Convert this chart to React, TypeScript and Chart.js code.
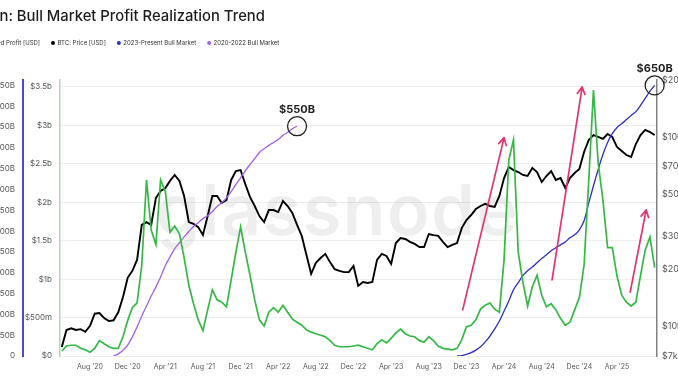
import React, { useEffect, useRef } from "react";
import { Chart, registerables } from "chart.js";

Chart.register(...registerables);

const TITLE = "Bitcoin: Bull Market Profit Realization Trend";
// x is counted in months from Jan 2020 (4 = May 2020), one sample every half month
const START_MONTH = 4;
const STEP_MONTHS = 0.5;

// BTC price, thousands of USD
const btcPriceK = [
  7.8, 9.6, 9.8, 9.6, 9.7, 9.4, 10.1, 11.7, 11.8, 11.1,
  10.7, 10.8, 11.9, 14.3, 18.1, 19.7, 22.5, 34.4, 35.6, 34.4,
  47.7, 51.9, 53.9, 58.7, 63.1, 58.7, 48.9, 35.6, 34.8, 33.5,
  30.4, 38.3, 48.9, 48.9, 44.9, 46.5, 59.4, 66.2, 67.0, 56.5,
  48.3, 43.3, 38.3, 35.6, 41.2, 41.2, 40.2, 46.0, 43.3, 39.8,
  34.4, 30.1, 23.9, 19.0, 21.7, 23.0, 24.2, 21.9, 20.1, 19.7,
  19.4, 19.4, 20.9, 16.4, 17.2, 17.0, 17.2, 22.5, 24.2, 23.6,
  21.4, 27.6, 29.3, 29.0, 28.0, 27.3, 26.3, 26.3, 30.8, 30.4,
  30.1, 28.0, 26.3, 27.0, 27.6, 33.1, 36.5, 38.8, 41.7, 43.3,
  44.4, 43.3, 42.8, 48.9, 60.8, 69.5, 67.0, 65.4, 63.1, 62.3,
  68.7, 65.4, 57.9, 62.3, 66.2, 59.4, 60.8, 53.9, 60.8, 64.6,
  67.8, 83.4, 96.5, 102.5, 100.1, 97.7, 103.8, 100.1, 88.6, 84.4,
  80.4, 78.5, 91.9, 102.5, 109.0, 106.3, 102.5,
];

// Realized profit, billions of USD
const realizedProfitB = [
  0.065, 0.13, 0.14, 0.14, 0.1, 0.08, 0.05, 0.1, 0.2, 0.16,
  0.12, 0.1, 0.1, 0.25, 0.46, 0.63, 0.69, 1.18, 2.29, 1.64,
  1.45, 2.29, 2.14, 1.61, 1.69, 1.59, 1.28, 0.92, 0.68, 0.47,
  0.33, 0.6, 0.86, 0.73, 0.7, 0.64, 0.99, 1.35, 1.68, 1.35,
  1.05, 0.73, 0.47, 0.39, 0.57, 0.63, 0.57, 0.66, 0.57, 0.48,
  0.44, 0.4, 0.34, 0.31, 0.29, 0.27, 0.25, 0.2, 0.14, 0.12,
  0.12, 0.12, 0.13, 0.14, 0.12, 0.1, 0.08, 0.16, 0.21, 0.17,
  0.23, 0.3, 0.35, 0.29, 0.26, 0.25, 0.2, 0.18, 0.25, 0.2,
  0.13, 0.1, 0.09, 0.08, 0.1, 0.21, 0.38, 0.4, 0.47, 0.61,
  0.66, 0.69, 0.61, 0.57, 1.25, 2.55, 2.81, 1.35, 0.96, 0.65,
  0.9, 1.05, 0.79, 0.64, 0.68, 0.6, 0.49, 0.4, 0.44, 0.6,
  0.76, 1.18, 2.29, 3.46, 2.51, 2.03, 1.41, 1.41, 1.04, 0.79,
  0.7, 0.65, 0.7, 1.05, 1.38, 1.55, 1.15,
];

// Cumulative profit of the 2020-2022 bull market, billions of USD
const bull2020StartIndex = 11;
const bull2020CumulativeB = [
  0, 5, 14, 26, 46, 70, 96, 120, 144, 166, 190, 217, 238, 258, 272, 286,
  299, 311, 320, 330, 337, 347, 359, 368, 380, 395, 412, 428, 445, 460,
  474, 489, 498, 506, 513, 520, 530, 537, 546, 552,
];

// Cumulative profit of the 2023-present bull market, billions of USD
const bull2023StartIndex = 84;
const bull2023CumulativeB = [
  0, 1, 4, 8, 14, 22, 34, 48, 65, 84, 108, 132, 159, 176, 193, 205, 214,
  224, 234, 243, 253, 260, 267, 274, 284, 291, 303, 325, 368, 409, 448,
  484, 513, 534, 549, 558, 568, 578, 587, 602, 619, 636, 650,
];

const monthTickValues = [7, 11, 15, 19, 23, 27, 31, 35, 39, 43, 47, 51, 55, 59, 63];
const MONTH_NAMES = ["Jan", "Feb", "Mar", "Apr", "May", "Jun", "Jul", "Aug", "Sep", "Oct", "Nov", "Dec"];
const cumulativeTicksB = [0, 50, 100, 150, 200, 250, 300, 350, 400, 450, 500, 550, 600, 650];
const profitTicksB = [0, 0.5, 1, 1.5, 2, 2.5, 3, 3.5];
const priceTicksK = [7, 10, 20, 30, 50, 70, 100, 200];

// pink trend arrows, in (month, realized profit in B) coordinates
const arrowTailMonth = [46.6, 56.1, 64.4];
const arrowTailProfitB = [0.6, 0.99, 0.83];
const arrowHeadMonth = [51.0, 59.3, 66.1];
const arrowHeadProfitB = [2.84, 3.5, 1.9];

const calloutLabels = ["$550B", "$650B"];

const legendLabels = ["Realized Profit [USD]", "BTC: Price [USD]", "2023-Present Bull Market", "2020-2022 Bull Market"];

const GREEN = "#35b845";
const BLACK = "#000000";
const BLUE = "#2b30c4";
const PURPLE = "#a061e6";
const legendColors = [GREEN, BLACK, BLUE, PURPLE];

const FONT = "Inter, 'Noto Sans', sans-serif";

const monthAt = (i: number) => START_MONTH + i * STEP_MONTHS;
const monthLabel = (m: number) =>
  `${MONTH_NAMES[((m % 12) + 12) % 12]} '${20 + Math.floor(m / 12)}`;

const overlayPlugin = {
  id: "overlay",
  beforeDatasetsDraw(chart: any) {
    const ctx = chart.ctx;
    ctx.save();
    ctx.font = `600 70px ${FONT}`;
    try { (ctx as any).letterSpacing = "1.5px"; } catch (e) { /* ignore */ }
    ctx.fillStyle = "rgba(0,0,0,0.065)";
    ctx.textBaseline = "alphabetic";
    ctx.fillText("glassnode", 156, 235);
    ctx.restore();
  },
  afterDraw(chart: any) {
    const ctx = chart.ctx;
    const xs = chart.scales.x;
    const yc = chart.scales.yCum;
    const yp = chart.scales.yProfit;
    ctx.save();

    // title (cropped on the left like the source)
    ctx.font = `500 14.8px ${FONT}`;
    ctx.fillStyle = "#1d1d1f";
    ctx.textBaseline = "alphabetic";
    const cut = ctx.measureText("Bitcoi").width;
    ctx.fillText(TITLE, -cut - 0.5, 21);

    // legend
    ctx.font = `6px ${FONT}`;
    ctx.textBaseline = "middle";
    ctx.fillStyle = "#333";
    const ly = 43;
    const w0 = ctx.measureText(legendLabels[0]).width;
    const drawItem = (i: number, textX: number) => {
      ctx.beginPath();
      ctx.fillStyle = legendColors[i];
      ctx.arc(textX - 4.5, ly, 2, 0, Math.PI * 2);
      ctx.fill();
      ctx.fillStyle = "#333";
      ctx.fillText(legendLabels[i], textX, ly);
      return textX + ctx.measureText(legendLabels[i]).width;
    };
    drawItem(0, 40 - w0);
    let dotX = 53;
    for (let i = 1; i < legendLabels.length; i++) {
      const end = drawItem(i, dotX + 4.5);
      dotX = end + 13;
    }

    // arrows
    ctx.strokeStyle = "#e3336f";
    ctx.lineWidth = 1.7;
    ctx.lineCap = "round";
    for (let i = 0; i < arrowTailMonth.length; i++) {
      const x1 = xs.getPixelForValue(arrowTailMonth[i]);
      const y1 = yp.getPixelForValue(arrowTailProfitB[i] * 1e9);
      const x2 = xs.getPixelForValue(arrowHeadMonth[i]);
      const y2 = yp.getPixelForValue(arrowHeadProfitB[i] * 1e9);
      const a = Math.atan2(y2 - y1, x2 - x1);
      ctx.beginPath();
      ctx.moveTo(x1, y1);
      ctx.lineTo(x2, y2);
      for (const s of [-1, 1]) {
        const b = a + Math.PI + s * 0.5;
        ctx.moveTo(x2, y2);
        ctx.lineTo(x2 + 8 * Math.cos(b), y2 + 8 * Math.sin(b));
      }
      ctx.stroke();
    }

    // callout circles at the end of each bull-market curve
    const ends = [
      [monthAt(bull2020StartIndex + bull2020CumulativeB.length - 1), bull2020CumulativeB[bull2020CumulativeB.length - 1]],
      [monthAt(bull2023StartIndex + bull2023CumulativeB.length - 1), bull2023CumulativeB[bull2023CumulativeB.length - 1]],
    ];
    ends.forEach(([m, v], i) => {
      const cx = xs.getPixelForValue(m);
      const cy = yc.getPixelForValue(v * 1e9);
      ctx.beginPath();
      ctx.strokeStyle = "#222";
      ctx.lineWidth = 1.3;
      ctx.arc(cx, cy, 9.5, 0, Math.PI * 2);
      ctx.stroke();
      ctx.font = `700 11px ${FONT}`;
      ctx.fillStyle = "#222";
      ctx.textAlign = "center";
      ctx.textBaseline = "alphabetic";
      ctx.fillText(calloutLabels[i], cx, cy - 13);
    });
    ctx.restore();
  },
};

export default function App() {
  const canvasRef = useRef<HTMLCanvasElement | null>(null);

  useEffect(() => {
    if (!canvasRef.current) return;
    Chart.defaults.font.family = FONT;

    const priceData = btcPriceK.map((v, i) => ({ x: monthAt(i), y: v * 1000 }));
    const profitData = realizedProfitB.map((v, i) => ({ x: monthAt(i), y: v * 1e9 }));
    const bull2020Data = bull2020CumulativeB.map((v, i) => ({ x: monthAt(bull2020StartIndex + i), y: v * 1e9 }));
    const bull2023Data = bull2023CumulativeB.map((v, i) => ({ x: monthAt(bull2023StartIndex + i), y: v * 1e9 }));

    const tickFont = { size: 8, family: FONT };

    const chart = new Chart(canvasRef.current, {
      type: "line",
      data: {
        datasets: [
          { label: "Realized Profit [USD]", data: profitData, yAxisID: "yProfit", borderColor: GREEN, borderWidth: 1.7, pointRadius: 0, tension: 0 },
          { label: "2023-Present Bull Market", data: bull2023Data, yAxisID: "yCum", borderColor: BLUE, borderWidth: 1.3, pointRadius: 0, cubicInterpolationMode: "monotone" },
          { label: "2020-2022 Bull Market", data: bull2020Data, yAxisID: "yCum", borderColor: PURPLE, borderWidth: 1.3, pointRadius: 0, cubicInterpolationMode: "monotone" },
          { label: "BTC: Price [USD]", data: priceData, yAxisID: "yPrice", borderColor: BLACK, borderWidth: 1.9, pointRadius: 0, tension: 0 },
        ],
      },
      options: {
        responsive: false,
        animation: false,
        events: [],
        layout: { padding: { top: 80, left: 0, right: 0, bottom: 0 } },
        plugins: { legend: { display: false }, title: { display: false }, tooltip: { enabled: false } },
        scales: {
          x: {
            type: "linear",
            min: 3.81,
            max: 67.25,
            grid: { display: false, drawTicks: false },
            border: { display: false },
            ticks: { padding: 7, color: "#555", font: { size: 7, family: FONT }, maxRotation: 0, autoSkip: false, callback: (v: any) => monthLabel(Number(v)) },
            afterBuildTicks: (s: any) => { s.ticks = monthTickValues.map((v) => ({ value: v })); },
            afterFit: (s: any) => { s.height = 25; },
          },
          yCum: {
            type: "linear",
            position: "left",
            weight: 2,
            min: 0,
            max: 663e9,
            grid: { display: false, drawTicks: false },
            border: { display: true, color: "#4b4bd1", width: 2 },
            ticks: { padding: 8, color: "#555", font: tickFont, callback: (v: any) => (Number(v) === 0 ? "0" : `${Math.round(Number(v) / 1e9)}B`) },
            afterBuildTicks: (s: any) => { s.ticks = cumulativeTicksB.map((v) => ({ value: v * 1e9 })); },
            afterFit: (s: any) => { s.width = 23; },
          },
          yProfit: {
            type: "linear",
            position: "left",
            weight: 1,
            min: 0,
            max: 3.59e9,
            grid: { color: "#eeeeee", drawTicks: false },
            border: { display: true, color: "#a7dcb0", width: 1.5 },
            ticks: {
              padding: 8,
              color: "#555",
              font: tickFont,
              callback: (v: any) => {
                const b = Number(v) / 1e9;
                if (b === 0) return "$0";
                if (b < 1) return `$${Math.round(b * 1000)}m`;
                return `$${b}b`;
              },
            },
            afterBuildTicks: (s: any) => { s.ticks = profitTicksB.map((v) => ({ value: v * 1e9 })); },
            afterFit: (s: any) => { s.width = 37; },
          },
          yPrice: {
            type: "logarithmic",
            position: "right",
            min: 7000,
            max: 200000,
            grid: { display: false, drawTicks: false },
            border: { display: true, color: "#808080", width: 1.5 },
            ticks: { padding: 5, color: "#555", font: { size: 9, family: FONT }, callback: (v: any) => `$${Math.round(Number(v) / 1000)}k` },
            afterBuildTicks: (s: any) => { s.ticks = priceTicksK.map((v) => ({ value: v * 1000 })); },
            afterFit: (s: any) => { s.width = 21; },
          },
        },
      } as any,
      plugins: [overlayPlugin as any],
    });

    return () => chart.destroy();
  }, []);

  return (
    <div style={{ position: "fixed", left: 0, top: 0, width: 678, height: 381, background: "#fff", overflow: "hidden" }}>
      <canvas ref={canvasRef} width={678} height={381} style={{ display: "block" }} />
    </div>
  );
}
